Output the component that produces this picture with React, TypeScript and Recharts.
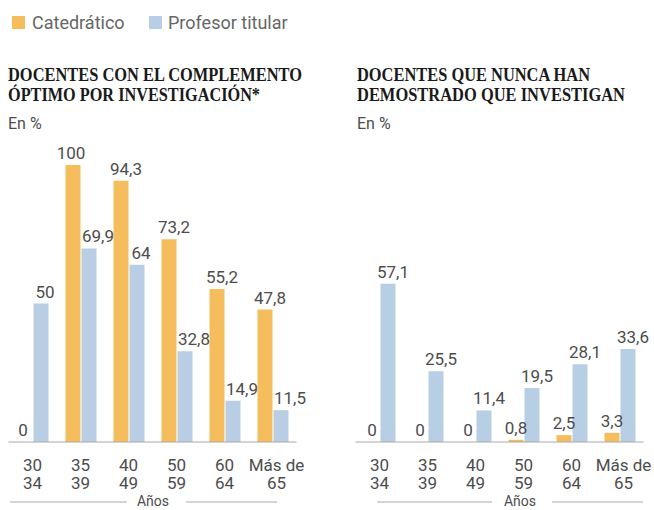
import { Bar, BarChart, LabelList, XAxis, YAxis } from "recharts";

const ageFrom = ["30", "35", "40", "50", "60", "Más de"];
const ageTo = ["34", "39", "49", "59", "64", "65"];

// docentes con el complemento óptimo por investigación (%)
const optimoCatedratico = [0, 100, 94.3, 73.2, 55.2, 47.8];
const optimoTitular = [50, 69.9, 64, 32.8, 14.9, 11.5];

// docentes que nunca han demostrado que investigan (%)
const nuncaCatedratico = [0, 0, 0, 0.8, 2.5, 3.3];
const nuncaTitular = [57.1, 25.5, 11.4, 19.5, 28.1, 33.6];

const ORANGE = "#f6bd5c";
const BLUE = "#b8cee4";
const SANS = "Roboto, 'Open Sans', sans-serif";
const SERIF = "'Liberation Serif', 'DejaVu Serif', serif";
const TEXT = "#4d4d4d";

const fmt = (v: number) => String(v).replace(".", ",");

const AgeTick = (props: any) => {
  const { x, y, payload, index } = props;
  const [a, b] = String(payload.value).split("|");
  // last group ("Más de 65") sits a bit to the right in the original
  const dx = index === 5 ? 4 : 0;
  return (
    <g>
      <text x={x + dx} y={y + 20.5} textAnchor="middle" fontFamily={SANS} fontSize={17} fill={TEXT}>{a}</text>
      <text x={x + dx} y={y + 39} textAnchor="middle" fontFamily={SANS} fontSize={17} fill={TEXT}>{b}</text>
    </g>
  );
};

const valueLabel = (dxComma: number, dxPlain: number) => (props: any) => {
  const { x, y, width, value } = props;
  const v = Number(value);
  const dx = String(v).includes(".") ? dxComma : dxPlain;
  return (
    <text
      x={Number(x) + Number(width) / 2 + dx}
      y={Number(y) - 6}
      textAnchor="middle"
      fontFamily={SANS}
      fontSize={17}
      fill={TEXT}
    >
      {fmt(v)}
    </text>
  );
};

type PanelProps = {
  left: number;
  marginLeft: number;
  cat: number[];
  tit: number[];
  dxCat: [number, number];
  dxTit: [number, number];
};

const Panel = ({ left, marginLeft, cat, tit, dxCat, dxTit }: PanelProps) => {
  const data = ageFrom.map((a, i) => ({ age: `${a}|${ageTo[i]}`, cat: cat[i], tit: tit[i] }));
  const width = 330;
  return (
    <div style={{ position: "absolute", left, top: 0 }}>
      <BarChart
        width={width}
        height={510}
        data={data}
        margin={{ top: 165, right: width - marginLeft - 288, bottom: 0, left: marginLeft }}
        barSize={15}
        barGap={1}
      >
        <XAxis dataKey="age" tick={<AgeTick />} tickLine={false} axisLine={{ stroke: "#a8a8a8" }} height={68} interval={0} />
        <YAxis hide width={0} domain={[0, 100]} />
        <Bar dataKey="cat" fill={ORANGE} minPointSize={0.01} isAnimationActive={false}>
          <LabelList dataKey="cat" content={valueLabel(dxCat[0], dxCat[1])} />
        </Bar>
        <Bar dataKey="tit" fill={BLUE} minPointSize={0.01} isAnimationActive={false}>
          <LabelList dataKey="tit" content={valueLabel(dxTit[0], dxTit[1])} />
        </Bar>
      </BarChart>
    </div>
  );
};

const Title = ({ x, lines, widths }: { x: number; lines: string[]; widths: number[] }) => (
  <>
    {lines.map((l, i) => (
      <text
        key={i}
        x={x}
        y={81 + i * 19.5}
        fontFamily={SERIF}
        fontWeight="bold"
        fontSize={18}
        fill="#1a1a1a"
        textLength={widths[i]}
        lengthAdjust="spacingAndGlyphs"
      >
        {l}
      </text>
    ))}
    <text x={x} y={128.5} fontFamily={SANS} fontSize={16} fill={TEXT}>En %</text>
  </>
);

const AxisTitle = ({ cx, l1, l2, r1, r2 }: { cx: number; l1: number; l2: number; r1: number; r2: number }) => (
  <>
    <line x1={l1} x2={l2} y1={502} y2={502} stroke="#a8a8a8" />
    <line x1={r1} x2={r2} y1={502} y2={502} stroke="#a8a8a8" />
    <text x={cx} y={506} textAnchor="middle" fontFamily={SANS} fontSize={14} fill={TEXT}>Años</text>
  </>
);

export default function App() {
  return (
    <div style={{ position: "absolute", left: 0, top: 0, width: 654, height: 510, background: "#fff", overflow: "hidden" }}>
      <Panel left={0} marginLeft={8.5} cat={optimoCatedratico} tit={optimoTitular} dxCat={[5, -2]} dxTit={[9, 4]} />
      <Panel left={330} marginLeft={25.5} cat={nuncaCatedratico} tit={nuncaTitular} dxCat={[0, 0]} dxTit={[5, 5]} />
      <svg width={654} height={510} style={{ position: "absolute", left: 0, top: 0, pointerEvents: "none" }}>
        <rect x={12} y={16} width={13} height={13} fill={ORANGE} />
        <text x={32} y={29} fontFamily={SANS} fontSize={18} fill="#666">Catedrático</text>
        <rect x={149} y={16} width={13} height={13} fill={BLUE} />
        <text x={168} y={29} fontFamily={SANS} fontSize={18} fill="#666">Profesor titular</text>
        <Title x={8} lines={["DOCENTES CON EL COMPLEMENTO", "ÓPTIMO POR INVESTIGACIÓN*"]} widths={[294, 252]} />
        <Title x={357} lines={["DOCENTES QUE NUNCA HAN", "DEMOSTRADO QUE INVESTIGAN"]} widths={[233, 268]} />
        <AxisTitle cx={153} l1={10} l2={127} r1={186} r2={277} />
        <AxisTitle cx={520} l1={377} l2={492} r1={552} r2={643} />
      </svg>
    </div>
  );
}
